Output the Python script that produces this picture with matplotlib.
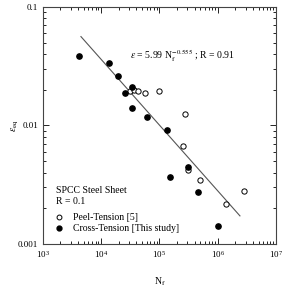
import matplotlib
matplotlib.use("Agg")
import matplotlib.pyplot as plt
import numpy as np

plt.rcParams['font.family'] = ['Liberation Serif', 'DejaVu Serif']
plt.rcParams['mathtext.fontset'] = 'stix'

# Peel-Tension [5] (open circles)
peel_N = [30800, 37100, 42300, 55800, 97300, 273000, 250000, 304000, 495000, 2.84e6, 1.36e6]
peel_eps = [0.0197, 0.0200, 0.0195, 0.0189, 0.0194, 0.0125, 0.00671, 0.00419, 0.00349, 0.00279, 0.00219]

# Cross-Tension [This study] (filled circles)
cross_N = [4230, 13700, 19600, 34200, 25600, 34200, 61400, 132000, 312000, 149000, 458000, 1.01e6]
cross_eps = [0.0388, 0.0336, 0.0263, 0.0211, 0.0188, 0.0141, 0.0117, 0.00916, 0.00449, 0.00366, 0.00275, 0.00141]

# fit: eps = A * N^b, drawn between these N
fit_A = 5.99
fit_b = -0.555
fit_N = np.array([4.5e3, 2.4e6])

fig = plt.figure(figsize=(2.82, 2.90), dpi=100)
ax = fig.add_axes([0.152, 0.159, 0.827, 0.817])

ax.plot(fit_N, fit_A * fit_N ** fit_b, color='#555555', lw=0.8)
ax.plot(peel_N, peel_eps, 'o', mfc='white', mec='black', mew=0.7, ms=3.8, ls='none')
ax.plot(cross_N, cross_eps, 'o', color='black', ms=3.8, ls='none')

ax.set_xscale('log')
ax.set_yscale('log')
ax.set_xlim(1e3, 1e7)
ax.set_ylim(1e-3, 1e-1)
ax.set_yticks([0.001, 0.01, 0.1])
ax.set_yticklabels(['0.001', '0.01', '0.1'])
ax.tick_params(which='both', direction='in', top=True, right=True, labelsize=6.5, width=0.6)
ax.tick_params(which='major', length=4)
ax.tick_params(which='minor', length=2)
ax.tick_params(axis='x', pad=4)
for s in ax.spines.values():
    s.set_linewidth(0.8)
    s.set_color('#444444')

ax.set_xlabel(r'N$_{\mathrm{f}}$', fontsize=7, labelpad=11)
ax.set_ylabel(r'$\epsilon_{\mathrm{eq}}$', fontsize=7, labelpad=-2)

ax.text(0.60, 0.795, r'$\epsilon$ = 5.99 N$_{\mathrm{f}}^{-0.555}$ ; R = 0.91',
        transform=ax.transAxes, fontsize=7, ha='center', va='center')
ax.text(0.055, 0.225, 'SPCC Steel Sheet', transform=ax.transAxes, fontsize=7, va='center')
ax.text(0.055, 0.178, 'R = 0.1', transform=ax.transAxes, fontsize=7, va='center')

ax.plot([0.07], [0.112], 'o', mfc='white', mec='black', mew=0.7, ms=3.5, transform=ax.transAxes)
ax.plot([0.07], [0.066], 'o', color='black', ms=3.5, transform=ax.transAxes)
ax.text(0.13, 0.112, 'Peel-Tension [5]', transform=ax.transAxes, fontsize=7, va='center')
ax.text(0.13, 0.066, 'Cross-Tension [This study]', transform=ax.transAxes, fontsize=7, va='center')

fig.savefig('out.png', dpi=100)
